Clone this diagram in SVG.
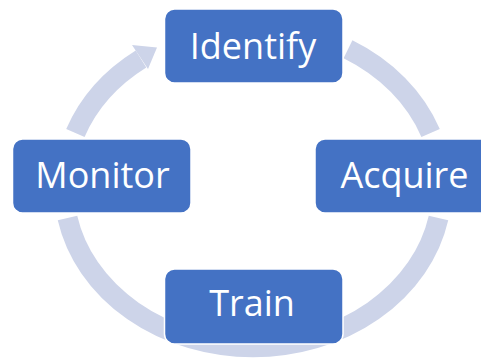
<svg xmlns="http://www.w3.org/2000/svg" width="481" height="360" viewBox="0 0 481 360">
<style>
.ring{fill:none;stroke:#CDD4E9;stroke-width:20;stroke-linecap:butt}
.head{fill:#CDD4E9}
.box{fill:#4472C4;stroke:#FFFFFF;stroke-width:1.5}
.lbl{fill:#FFFFFF;font-family:"Open Sans","Noto Sans",sans-serif;font-size:36px;text-anchor:middle}
</style>
<rect width="481" height="360" fill="#FFFFFF"/>
<g id="connectors">
<path class="ring" d="M 348,49.2 A 189 160 0 0 1 430.6,133"/>
<path class="ring" d="M 438.5,218 A 189 160 0 0 1 67.5,218"/>
<path class="ring" d="M 75.4,133 A 189 160 0 0 1 141,59"/>
<polygon class="head" points="132,45 157,47.5 148,69"/>
</g>
<g id="identify">
<rect class="box" x="164.5" y="9" width="178.5" height="74" rx="10"/>
<text class="lbl" x="253" y="59">Identify</text>
</g>
<g id="acquire">
<rect class="box" x="315" y="139" width="179" height="74" rx="10"/>
<text class="lbl" x="404.5" y="188">Acquire</text>
</g>
<g id="train">
<rect class="box" x="164.5" y="269" width="178.5" height="75" rx="10"/>
<text class="lbl" x="252" y="316">Train</text>
</g>
<g id="monitor">
<rect class="box" x="12.5" y="139" width="178.5" height="74" rx="10"/>
<text class="lbl" x="102.5" y="188">Monitor</text>
</g>
</svg>
